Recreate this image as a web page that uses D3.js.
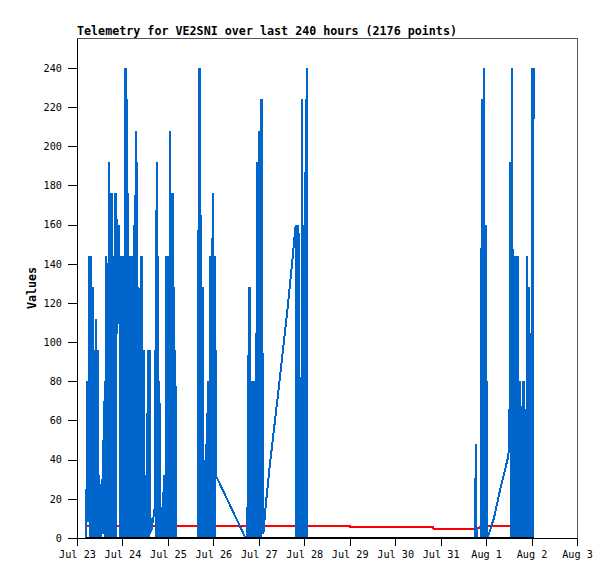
<!DOCTYPE html>
<html>
<head>
<meta charset="utf-8">
<script src="https://cdn.jsdelivr.net/npm/d3@7/dist/d3.min.js"></script>
<style>
  body { margin: 0; background: #fff; }
  svg text { font-family: "DejaVu Sans Mono", "Liberation Mono", monospace; fill: #000; }
</style>
</head>
<body>
<div id="chart"></div>
<script>
// time window shown on the x axis
const startDate = new Date(2024, 6, 23);
const endDate = new Date(2024, 7, 3);

const titleText = "Telemetry for VE2SNI over last 240 hours (2176 points)";
const yLabel = "Values";
const yTicks = [0, 20, 40, 60, 80, 100, 120, 140, 160, 180, 200, 220, 240];

// blue telemetry channel: [hours since Jul 23 00:00, value]
const blueSeries = [
    // Jul 23 - Jul 24
    [4.86,0],[5.39,80],[5.86,8],[6.34,144],[6.86,0],[7.34,144],[7.87,0],[8.34,128],[8.82,0],[9.29,96],
    [9.77,0],[10.14,112],[10.56,0],[10.98,96],[11.40,0],[11.83,32],[12.25,0],[12.62,10],[12.88,0],[13.15,30],
    [13.41,2],[13.68,50],[13.94,2],[14.20,70],[14.47,2],[14.73,80],[15.05,0],[15.36,144],[15.73,0],[16.05,112],
    [16.37,0],[16.74,192],[17.11,0],[17.53,176],[17.95,0],[18.37,176],[18.80,0],[19.27,144],[19.69,0],[20.06,176],
    [20.49,0],[20.80,176],[21.12,104],[21.54,152],[21.96,120],[22.33,160],[22.70,0],[23.13,144],[23.55,0],[23.97,144],
    [24.39,0],[24.82,144],[25.24,0],[25.61,240],[25.98,0],[26.35,224],[26.72,0],[27.09,176],[27.46,0],[27.88,144],
    [28.30,0],[28.72,144],[29.15,0],[29.57,144],[29.99,0],[30.36,160],[30.68,0],[30.94,208],[31.26,0],[31.57,192],
    [31.89,0],[32.21,128],[32.58,0],[32.89,96],[33.21,0],[33.58,144],[34.00,0],[34.43,144],[34.85,0],[35.22,96],
    [35.59,0],[36.12,32],[36.54,0],[36.96,64],[37.33,0],[37.70,96],[38.07,0],[38.39,96],[38.70,2],[38.97,10],
    [39.18,3],[39.60,6],[40.13,9],[40.66,12],[41.08,16],[41.40,96],[41.71,0],[42.03,192],[42.40,0],[42.77,144],
    [43.14,0],[43.51,80],[43.93,0],[44.77,0],[45.09,16],[45.41,0],[45.78,32],[46.15,0],[46.68,0],[47.04,144],
    [47.41,0],[47.78,144],[48.15,0],[48.52,144],[48.89,0],[49.26,208],[49.63,0],[49.95,176],[50.32,0],[50.69,176],
    [51.06,0],[51.37,128],[51.69,0],[51.96,96],[52.22,0],
    // Jul 25 - Jul 26
    [63.78,0],[64.36,240],[64.73,0],[65.10,240],[65.47,0],[65.84,128],[66.21,0],[66.53,128],[66.84,0],[67.11,20],
    [67.37,0],[67.58,40],[67.85,0],[68.11,48],[68.38,0],[68.64,64],[68.90,0],[69.17,80],[69.43,0],[69.70,48],
    [69.91,0],[70.17,144],[70.54,0],[70.91,144],[71.28,0],[71.60,176],[71.97,0],[72.34,144],[72.71,0],[73.02,144],
    [73.29,32],[88.97,0],
    // Jul 26 - Jul 27
    [89.65,0],[89.97,16],[90.29,0],[90.66,128],[91.03,0],[91.40,128],[91.77,0],[92.14,80],[92.51,0],[92.88,40],
    [93.19,0],[93.56,80],[93.93,0],[94.30,80],[94.62,0],[94.93,192],[95.25,0],[95.57,96],[95.88,0],[96.25,208],
    [96.62,0],[96.99,224],[97.36,0],[97.73,224],[98.10,5],[98.37,2],[99.79,18],[101.90,38],[106.81,79],[110.72,113],
    [114.05,145],
    // Jul 27 - Jul 28
    [115.47,160],[115.84,0],[116.21,160],[116.58,0],[116.95,160],[117.27,0],[117.59,16],[117.85,0],[118.17,26],[118.43,0],
    [118.75,224],[119.06,0],[119.43,160],[119.80,0],[120.12,160],[120.44,0],[120.70,224],[121.02,0],[121.33,240],[121.65,0],
    // Aug 1 - Aug 2
    [210.14,0],[210.57,48],[210.99,0],[213.31,0],[213.73,224],[214.10,0],[214.42,224],[214.74,0],[215.05,240],[215.37,0],
    [215.69,160],[216.00,0],[216.37,80],[216.74,0],[220.12,10],[223.71,26],[227.30,40],[228.31,46],[228.78,192],[229.26,0],
    [229.79,240],[230.21,0],[230.52,80],[230.84,0],[231.16,144],[231.53,0],[231.90,144],[232.27,0],[232.64,144],[233.01,0],
    [233.38,80],[233.75,0],[234.12,80],[234.43,0],[234.75,32],[235.07,0],[235.38,80],[235.75,0],[236.12,80],[236.49,0],
    [236.86,64],[237.18,0],[237.55,144],[237.86,0],[238.23,128],[238.55,0],[238.87,128],[239.18,0],[239.40,48],[239.66,0],
    [239.87,64],[240.13,0],[240.45,240],[240.77,0],[241.08,240]
];

// red telemetry channel
const redSeries = [
    [5.28,6],[63.6,6],[63.9,6.8],[64.2,6],[144.1,6],[144.3,5.4],[188.0,5.4],[188.2,4.8],
    [210.8,4.8],[212.5,5.3],[213.2,6],[241.08,6]
];

// black channel sitting on zero
const zeroSeries = [[4.86,0],[241.08,0]];

const width = 615, height = 579;
const margin = { top: 38, right: 38, bottom: 41, left: 77 };

const svg = d3.select("#chart")
    .append("svg")
    .attr("width", width)
    .attr("height", height);

const x = d3.scaleTime()
    .domain([startDate, endDate])
    .range([margin.left, width - margin.right]);

const y = d3.scaleLinear()
    .domain([0, 255.3])
    .range([height - margin.bottom, margin.top]);

const toDate = h => new Date(startDate.getTime() + h * 3600 * 1000);

const line = d3.line()
    .x(d => x(toDate(d[0])))
    .y(d => y(d[1]));

// frame around the plot
svg.append("rect")
    .attr("x", margin.left)
    .attr("y", margin.top)
    .attr("width", width - margin.left - margin.right)
    .attr("height", height - margin.top - margin.bottom)
    .attr("fill", "none")
    .attr("stroke", "#555")
    .attr("shape-rendering", "crispEdges");

// series, red first so blue covers it
svg.append("path")
    .datum(redSeries)
    .attr("d", line)
    .attr("fill", "none")
    .attr("stroke", "#ff0000")
    .attr("stroke-width", 2)
    .attr("shape-rendering", "crispEdges");

svg.append("path")
    .datum(blueSeries)
    .attr("d", line)
    .attr("fill", "none")
    .attr("stroke", "#0066cc")
    .attr("stroke-width", 2)
    .attr("stroke-linejoin", "miter")
    .attr("shape-rendering", "crispEdges");

svg.append("path")
    .datum(zeroSeries)
    .attr("d", line)
    .attr("fill", "none")
    .attr("stroke", "#000")
    .attr("stroke-width", 2.5)
    .attr("shape-rendering", "crispEdges");

// axes
const xAxis = d3.axisBottom(x)
    .ticks(d3.timeDay.every(1))
    .tickFormat(d3.timeFormat("%b %-d"))
    .tickSize(8)
    .tickSizeOuter(0)
    .tickPadding(5);

const yAxis = d3.axisLeft(y)
    .tickValues(yTicks)
    .tickSize(9)
    .tickSizeOuter(0)
    .tickPadding(6);

const gx = svg.append("g")
    .attr("transform", `translate(0,${height - margin.bottom})`)
    .call(xAxis);

const gy = svg.append("g")
    .attr("transform", `translate(${margin.left},0)`)
    .call(yAxis);

[gx, gy].forEach(g => {
    g.attr("shape-rendering", "crispEdges");
    g.selectAll("path, line").attr("stroke", "#000");
    g.selectAll("text")
        .style("font-family", "'DejaVu Sans Mono', monospace")
        .style("font-size", "10.2px");
});

// title and y label
svg.append("text")
    .attr("x", margin.left)
    .attr("y", 35)
    .style("font-size", "11.7px")
    .style("font-weight", "bold")
    .text(titleText);

svg.append("text")
    .attr("transform", `translate(36,${(margin.top + height - margin.bottom) / 2}) rotate(-90)`)
    .attr("text-anchor", "middle")
    .style("font-size", "11.7px")
    .style("font-weight", "bold")
    .text(yLabel);
</script>
</body>
</html>
